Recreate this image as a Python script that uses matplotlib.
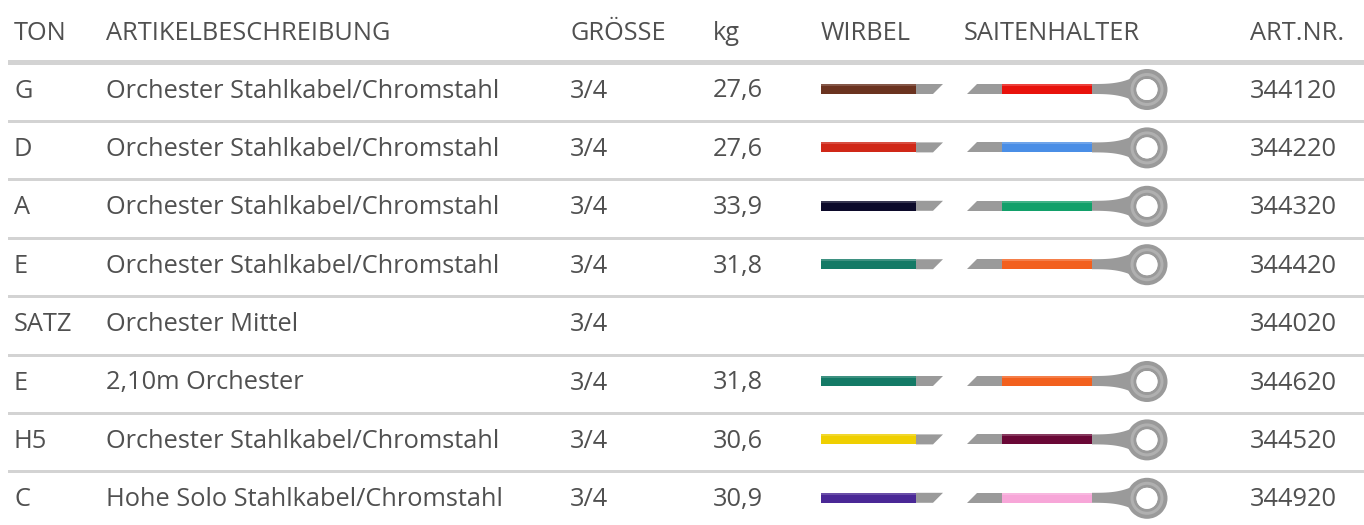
import matplotlib.pyplot as plt
import numpy as np
from matplotlib.patches import Polygon, Rectangle, Annulus, Circle

# table content
headers = ["TON", "ARTIKELBESCHREIBUNG", "GRÖSSE", "kg", "WIRBEL", "SAITENHALTER", "ART.NR."]
tones = ["G", "D", "A", "E", "SATZ", "E", "H5", "C"]
descriptions = ["Orchester Stahlkabel/Chromstahl", "Orchester Stahlkabel/Chromstahl",
                "Orchester Stahlkabel/Chromstahl", "Orchester Stahlkabel/Chromstahl",
                "Orchester Mittel", "2,10m Orchester",
                "Orchester Stahlkabel/Chromstahl", "Hohe Solo Stahlkabel/Chromstahl"]
sizes = ["3/4"] * 8
weights = ["27,6", "27,6", "33,9", "31,8", "", "31,8", "30,6", "30,9"]
peg_colors = ["#6b3320", "#d02818", "#0c0a2a", "#147a66", None, "#147a66", "#efcf00", "#4a2896"]
tail_colors = ["#e8120c", "#4a8ee6", "#12a06a", "#f2601e", None, "#f2601e", "#6a0836", "#f7a6d8"]
art_nrs = ["344120", "344220", "344320", "344420", "344020", "344620", "344520", "344920"]

col_x = [14, 106, 570, 713, 821, 964, 1250]
text_col = "#505050"
grey = "#9a9a9a"
line_col = "#d3d3d3"

W, H = 1364, 525
fig = plt.figure(figsize=(W / 100, H / 100), dpi=100)
ax = fig.add_axes([0, 0, 1, 1])
ax.set_xlim(0, W)
ax.set_ylim(H, 0)
ax.axis("off")

font = dict(family="Open Sans", fontsize=18.3, color=text_col, va="baseline", ha="left")

# header
for x, h in zip(col_x, headers):
    ax.text(x, 40, h, **font)
ax.add_patch(Rectangle((8, 60), W - 8, 5, color=line_col, lw=0))

row_h = 58.4
y0 = 89


def draw_peg(yc, c):
    ax.add_patch(Rectangle((821, yc - 5), 95, 10, color=c, lw=0))
    ax.add_patch(Rectangle((821, yc - 5), 95, 2, color="white", alpha=0.18, lw=0))
    ax.add_patch(Polygon([(916, yc - 5), (943, yc - 5), (933, yc + 5), (916, yc + 5)],
                         closed=True, color=grey, lw=0))


def draw_tail(yc, c):
    ax.add_patch(Polygon([(977, yc - 5), (1002, yc - 5), (1002, yc + 5), (967, yc + 5)],
                         closed=True, color=grey, lw=0))
    ax.add_patch(Rectangle((1002, yc - 5), 90, 10, color=c, lw=0))
    ax.add_patch(Rectangle((1002, yc - 5), 90, 2, color="white", alpha=0.2, lw=0))
    # flared end towards the ring
    xs = np.linspace(1092, 1132, 30)
    hh = 5 + 4 * ((xs - 1092) / 35) ** 3
    pts = list(zip(xs, yc - hh)) + list(zip(xs[::-1], (yc + hh)[::-1]))
    ax.add_patch(Polygon(pts, closed=True, color=grey, lw=0))
    ax.add_patch(Annulus((1147, yc + 0.5), 20.5, 10, color=grey, lw=0))
    ax.add_patch(Annulus((1147, yc + 0.5), 16.5, 3, color="#b0b0b0", lw=0))
    ax.add_patch(Circle((1147, yc + 0.5), 10.5, color="white", lw=0))


for i in range(len(tones)):
    yc = y0 + i * row_h
    yb = yc + 8.5
    ax.text(col_x[0], yb, tones[i], **font)
    ax.text(col_x[1], yb, descriptions[i], **font)
    ax.text(col_x[2], yb, sizes[i], **font)
    ax.text(col_x[3], yb, weights[i], **font)
    ax.text(col_x[6], yb, art_nrs[i], **font)
    if peg_colors[i]:
        draw_peg(yc, peg_colors[i])
    if tail_colors[i]:
        draw_tail(yc, tail_colors[i])
    if i < len(tones) - 1:
        ax.add_patch(Rectangle((8, yc + 31), W - 8, 3, color=line_col, lw=0))

fig.savefig("out.png", dpi=100)
